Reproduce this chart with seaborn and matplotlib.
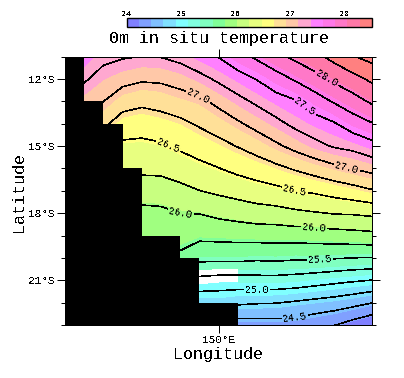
import numpy as np
import matplotlib
matplotlib.use("Agg")
import matplotlib.pyplot as plt
from matplotlib.cm import ScalarMappable
from matplotlib.colors import ListedColormap, BoundaryNorm
from matplotlib.ticker import FixedLocator, FuncFormatter
import seaborn as sns

# grid, one list per longitude, north to south
lat = [-10.95, -11.96, -12.97, -13.99, -15.0, -16.02, -17.03, -18.04, -19.06, -20.07, -21.09, -22.10, -23.11]
lon = list(range(142, 159))
t142 = [27.55, 27.42, 27.25, 27.00, 26.70, 26.40, 26.15, 25.90, 25.75, 25.55, 25.20, 24.80, 24.40]
t143 = [27.45, 27.29, 27.10, 26.90, 26.65, 26.35, 26.12, 25.90, 25.78, 25.58, 25.20, 24.80, 24.40]
t144 = [27.32, 27.16, 27.01, 26.80, 26.55, 26.30, 26.10, 25.90, 25.78, 25.58, 25.20, 24.80, 24.40]
t145 = [27.28, 27.09, 26.86, 26.64, 26.45, 26.27, 26.10, 25.90, 25.80, 25.60, 25.20, 24.80, 24.40]
t146 = [27.26, 27.04, 26.81, 26.61, 26.44, 26.30, 26.12, 25.92, 25.80, 25.60, 25.20, 24.80, 24.40]
t147 = [27.27, 27.05, 26.84, 26.65, 26.47, 26.31, 26.12, 25.94, 25.80, 25.60, 25.20, 24.80, 24.40]
t148 = [27.33, 27.10, 26.90, 26.70, 26.54, 26.36, 26.18, 25.99, 25.86, 25.68, 25.20, 24.80, 24.40]
t149 = [27.43, 27.19, 26.95, 26.78, 26.61, 26.43, 26.24, 26.00, 25.80, 25.54, 25.15, 24.78, 24.40]
t150 = [27.52, 27.30, 27.07, 26.86, 26.68, 26.49, 26.29, 26.05, 25.81, 25.54, 25.12, 24.80, 24.40]
t151 = [27.68, 27.41, 27.19, 26.97, 26.76, 26.56, 26.34, 26.09, 25.82, 25.54, 25.12, 24.75, 24.33]
t152 = [27.81, 27.52, 27.30, 27.08, 26.85, 26.62, 26.39, 26.13, 25.83, 25.52, 25.13, 24.73, 24.35]
t153 = [27.95, 27.66, 27.41, 27.19, 26.96, 26.69, 26.43, 26.15, 25.83, 25.53, 25.13, 24.72, 24.36]
t154 = [28.07, 27.79, 27.49, 27.31, 27.07, 26.77, 26.49, 26.19, 25.84, 25.51, 25.11, 24.68, 24.35]
t155 = [28.19, 27.92, 27.64, 27.40, 27.18, 26.85, 26.53, 26.22, 25.85, 25.51, 25.07, 24.64, 24.29]
t156 = [28.34, 28.06, 27.78, 27.48, 27.27, 26.93, 26.59, 26.25, 25.87, 25.49, 25.03, 24.60, 24.22]
t157 = [28.50, 28.18, 27.91, 27.63, 27.32, 27.00, 26.65, 26.26, 25.89, 25.47, 24.99, 24.54, 24.10]
t158 = [28.60, 28.31, 28.05, 27.74, 27.42, 27.07, 26.72, 26.29, 25.91, 25.46, 24.95, 24.46, 23.98]
temp = np.array([t142, t143, t144, t145, t146, t147, t148, t149, t150, t151,
                 t152, t153, t154, t155, t156, t157, t158]).T

# land mask, east edge of the black cells per latitude band
land_lat = [-11, -13, -14, -16, -19, -20, -22, -23]
land_lon = [143, 144, 145, 146, 148, 149, 151, 151]

band_colors = ["#8080ff", "#80a0ff", "#80c0ff", "#80e0ff", "#80ffff", "#80ffe0", "#80ffc0",
               "#80ff98", "#a0ff80", "#c8ff80", "#e8ff80", "#ffff80", "#ffe098", "#ffc8a8",
               "#ffa8d0", "#ff80ff", "#ff78e8", "#ff78c8", "#ff78a8", "#ff8080"]
fill_levels = np.linspace(24, 28.5, 21)
line_levels = np.arange(24.25, 28.51, 0.25)
label_levels = [24.5, 25.0, 25.5, 26.0, 26.5, 27.0, 27.5, 28.0]
label_pos = [(155.65, -11.96), (154.5, -13.25), (148.93, -12.85), (156.69, -15.93),
             (147.36, -15.0), (153.98, -16.96), (148.04, -17.99), (154.97, -18.61),
             (155.28, -20.0), (152.0, -21.38), (153.98, -22.67)]

sns.set_theme(style="ticks", rc={"axes.linewidth": 0.72, "text.antialiased": False})
plt.rcParams["font.family"] = ["Liberation Mono", "DejaVu Sans"]

W, H = 404, 378
fig = plt.figure(figsize=(W / 100, H / 100), dpi=100, facecolor="white")
ax = fig.add_axes([65 / W, 1 - 325 / H, 307 / W, 268.5 / H])
cax = fig.add_axes([126.7 / W, 1 - 27 / H, 245.3 / W, 9 / H])

cmap = ListedColormap(sns.color_palette(band_colors))
norm = BoundaryNorm(fill_levels, cmap.N)
ax.contourf(lon, lat, temp, levels=fill_levels, cmap=cmap, norm=norm,
            extend="both", antialiased=False)
# the band that is left blank west of 151E
ax.contourf(lon[:10], lat, temp[:, :10], levels=[25.125, 25.35], colors=["white"], antialiased=False)
ax.contour(lon, lat, temp, levels=[v for v in line_levels if v not in label_levels],
           colors="black", linewidths=0.4, antialiased=False)
cs = ax.contour(lon, lat, temp, levels=label_levels, colors="black", linewidths=0.4, antialiased=False)
ax.clabel(cs, fmt="%.1f", manual=label_pos, fontsize=7, inline=True, inline_spacing=2)
ax.fill_betweenx(land_lat, 142, land_lon, step="post", color="black", lw=0, zorder=5, antialiased=False)

ax.set_xlim(142, 158)
ax.set_ylim(-23, -11)
ax.set_xticks([150])
ax.xaxis.set_major_formatter(FuncFormatter(lambda v, p: f"{v:.0f}°E"))
ax.set_yticks([-12, -15, -18, -21])
ax.yaxis.set_minor_locator(FixedLocator(np.arange(-23, -10)))
ax.yaxis.set_major_formatter(FuncFormatter(lambda v, p: f"{abs(v):.0f}°S"))
ax.tick_params(axis="both", which="major", length=5.8, width=0.72, color="black", labelsize=8,
               top=True, right=True, pad=1.5, labelcolor="black")
ax.tick_params(axis="y", which="minor", length=2.9, width=0.72, color="black", left=True, right=True)
for s in ax.spines.values():
    s.set_visible(True)
    s.set_color("black")
    s.set_zorder(6)

cb = fig.colorbar(ScalarMappable(norm=norm, cmap=cmap), cax=cax, orientation="horizontal",
                  spacing="proportional", drawedges=False)
cb.set_ticks([24, 25, 26, 27, 28])
cb.minorticks_off()
cax.xaxis.set_ticks_position("top")
cax.tick_params(axis="x", direction="in", length=3.5, width=0.72, color="black", labelsize=6, pad=0, labelcolor="black")
cb.outline.set_edgecolor("black")
cb.outline.set_linewidth(1)

fig.text(218.6 / W, 1 - 38 / H, "0m in situ temperature", fontsize=12, ha="center", va="center", color="black")
fig.text(218.6 / W, 1 - 355 / H, "Longitude", fontsize=12, ha="center", va="center", color="black")
fig.text(19 / W, 1 - 192 / H, "Latitude", fontsize=12, rotation=90, ha="center", va="center", color="black")

fig.savefig("out.png", dpi=100, facecolor="white")
